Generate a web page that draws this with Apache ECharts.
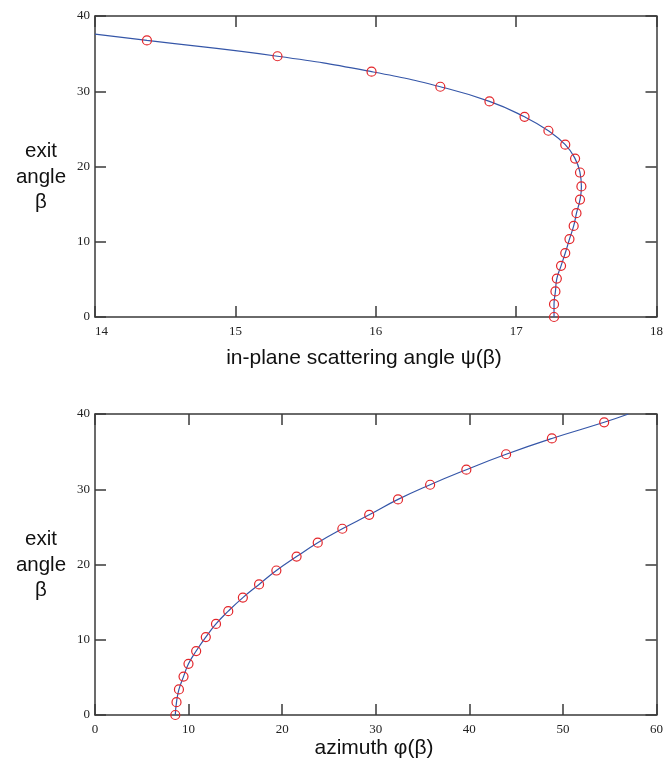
<!DOCTYPE html>
<html>
<head>
<meta charset="utf-8">
<script src="https://cdn.jsdelivr.net/npm/echarts@6/dist/echarts.min.js"></script>
<style>
html,body{margin:0;padding:0;background:#fff;}
#c{width:666px;height:767px;}
</style>
</head>
<body>
<div id="c"></div>
<script>
// exit angle beta at each marker
var betaMarks = [0, 1.7, 3.4, 5.1, 6.8, 8.5, 10.35, 12.1, 13.8, 15.6, 17.35, 19.2, 21.05, 22.9, 24.75, 26.6, 28.65, 30.6, 32.6, 34.65, 36.75, 38.9];
// in-plane scattering angle psi(beta) at markers (top panel)
var psiMarks = [17.27, 17.27, 17.28, 17.29, 17.32, 17.35, 17.38, 17.41, 17.43, 17.455, 17.465, 17.455, 17.42, 17.35, 17.23, 17.06, 16.81, 16.46, 15.97, 15.30, 14.37];
// azimuth phi(beta) at markers (bottom panel)
var phiMarks = [8.58, 8.71, 8.97, 9.46, 9.99, 10.81, 11.84, 12.93, 14.24, 15.80, 17.53, 19.38, 21.54, 23.80, 26.43, 29.30, 32.38, 35.81, 39.68, 43.93, 48.82, 54.41];
// where the continuous curves leave the plot frame [x, beta]
var psiCurveEnd = [14.0, 37.6];
var phiCurveEnd = [57.0, 40.0];
// axis ticks
var psiTicks = [14, 15, 16, 17, 18];
var phiTicks = [0, 10, 20, 30, 40, 50, 60];
var betaTicks = [0, 10, 20, 30, 40];

var psiPts = psiMarks.map(function (p, i) { return [p, betaMarks[i]]; });
var phiPts = phiMarks.map(function (p, i) { return [p, betaMarks[i]]; });
var psiLine = psiPts.concat([psiCurveEnd]);
var phiLine = phiPts.concat([phiCurveEnd]);

var axisColor = '#3a3a3a';
var serif = '"Liberation Serif", "DejaVu Serif", serif';
var sans = '"Liberation Sans", Arial, sans-serif';
var lineColor = '#3556a8';
var markColor = '#e3262b';

function xAx(gi, ticks, show, alignMin) {
  return {
    type: 'value', gridIndex: gi, position: show ? 'bottom' : 'top',
    min: ticks[0], max: ticks[ticks.length - 1], interval: ticks[1] - ticks[0],
    axisLine: { show: true, onZero: false, lineStyle: { color: axisColor, width: 1.5 } },
    axisTick: { show: true, inside: true, length: 11, lineStyle: { color: axisColor, width: 1.5 } },
    axisLabel: { show: show, margin: 8, color: '#222', fontFamily: serif, fontSize: 13, alignMinLabel: alignMin || 'center' },
    splitLine: { show: false }
  };
}
function yAx(gi, ticks, show) {
  return {
    type: 'value', gridIndex: gi, position: show ? 'left' : 'right',
    min: ticks[0], max: ticks[ticks.length - 1], interval: ticks[1] - ticks[0],
    axisLine: { show: true, onZero: false, lineStyle: { color: axisColor, width: 1.5 } },
    axisTick: { show: true, inside: true, length: 11, lineStyle: { color: axisColor, width: 1.5 } },
    axisLabel: { show: show, margin: 5, color: '#222', fontFamily: serif, fontSize: 13, padding: [4, 0, 0, 0] },
    splitLine: { show: false }
  };
}
function lineSeries(xi, data) {
  return { type: 'line', xAxisIndex: xi, yAxisIndex: xi, data: data, showSymbol: false, smooth: 0.5,
    lineStyle: { color: lineColor, width: 1.2 }, clip: true, silent: true, z: 2 };
}
function markSeries(xi, data) {
  return { type: 'scatter', xAxisIndex: xi, yAxisIndex: xi, data: data, symbol: 'circle', symbolSize: 9,
    itemStyle: { color: 'rgba(0,0,0,0)', borderColor: markColor, borderWidth: 1.2, opacity: 1 }, clip: false, z: 3 };
}

var chart = echarts.init(document.getElementById('c'), null, { renderer: 'canvas' });
chart.setOption({
  backgroundColor: '#fff',
  animation: false,
  grid: [
    { left: 95, top: 16, width: 566, height: 301 },
    { left: 95, top: 414, width: 565, height: 301 }
  ],
  xAxis: [xAx(0, psiTicks, true, 'left'), xAx(0, psiTicks, false), xAx(1, phiTicks, true), xAx(1, phiTicks, false)],
  yAxis: [yAx(0, betaTicks, true), yAx(0, betaTicks, false), yAx(1, betaTicks, true), yAx(1, betaTicks, false)],
  series: [
    lineSeries(0, psiLine), markSeries(0, psiPts),
    lineSeries(2, phiLine), markSeries(2, phiPts)
  ],
  graphic: [
    { type: 'text', x: 41, y: 177, style: { text: 'exit\nangle\nβ', align: 'center', verticalAlign: 'middle', font: '20.5px ' + sans, lineHeight: 25.5, fill: '#111' } },
    { type: 'text', x: 41, y: 565, style: { text: 'exit\nangle\nβ', align: 'center', verticalAlign: 'middle', font: '20.5px ' + sans, lineHeight: 25.5, fill: '#111' } },
    { type: 'text', x: 364, y: 358, style: { text: 'in-plane scattering angle ψ(β)', align: 'center', verticalAlign: 'middle', font: '21px ' + sans, fill: '#111' } },
    { type: 'text', x: 374, y: 748, style: { text: 'azimuth φ(β)', align: 'center', verticalAlign: 'middle', font: '21px ' + sans, fill: '#111' } }
  ]
});
</script>
</body>
</html>
